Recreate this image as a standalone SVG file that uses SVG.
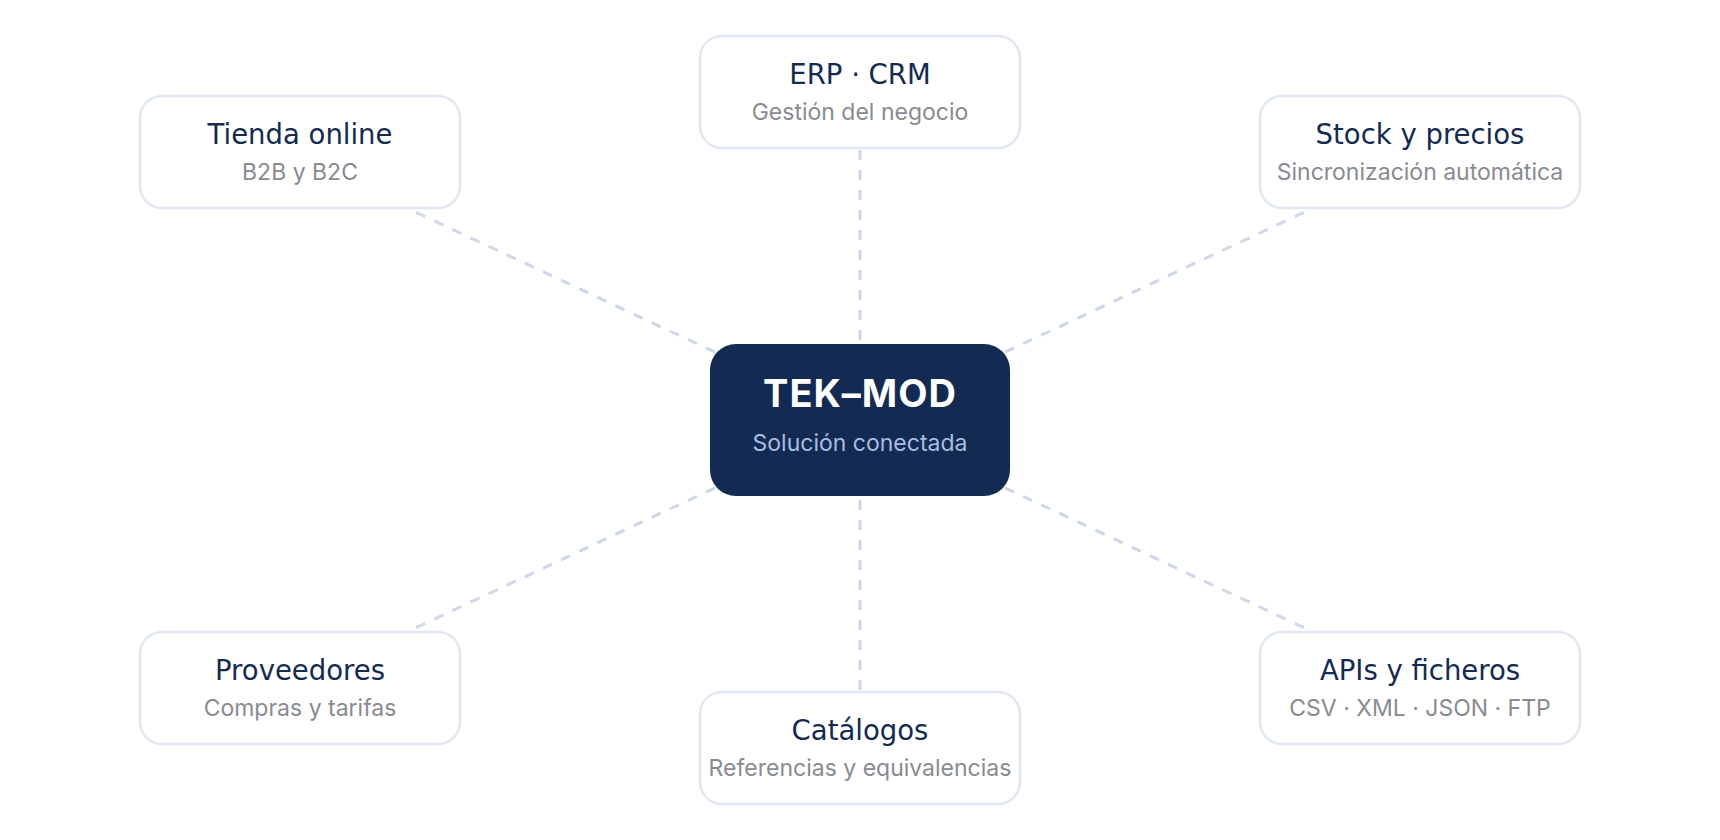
<svg xmlns="http://www.w3.org/2000/svg" width="1720" height="840" viewBox="0 0 1720 840">
<style>
.bg{fill:#ffffff}
.link{stroke:#cdd7e7;stroke-width:3;stroke-dasharray:10 10;fill:none}
.node{fill:#ffffff;stroke:#e2e8f2;stroke-width:2.5}
.hub{fill:#132a52}
.t{font-family:"DejaVu Sans",sans-serif;font-size:27.5px;fill:#132a52;text-anchor:middle}
.s{font-family:Inter,"Noto Sans",sans-serif;font-size:23px;fill:#888b90;text-anchor:middle}
.ht{font-family:Inter,"Noto Sans",sans-serif;font-size:38px;font-weight:700;fill:#ffffff;text-anchor:middle;letter-spacing:1px}
.hs{font-family:Inter,"Noto Sans",sans-serif;font-size:23px;fill:#a9bde0;text-anchor:middle}
</style>
<rect class="bg" width="1720" height="840"/>
<g id="connectors">
<line class="link" x1="860" y1="420" x2="300" y2="158"/>
<line class="link" x1="860" y1="420" x2="860" y2="150"/>
<line class="link" x1="860" y1="420" x2="1420" y2="158"/>
<line class="link" x1="860" y1="420" x2="300" y2="682"/>
<line class="link" x1="860" y1="420" x2="860" y2="690"/>
<line class="link" x1="860" y1="420" x2="1420" y2="682"/>
</g>
<g id="hub">
<rect class="hub" x="710" y="344" width="300" height="152" rx="26"/>
<text class="ht" x="860" y="407">TEK–MOD</text>
<text class="hs" x="860" y="451">Solución conectada</text>
</g>
<g id="tienda">
<rect class="node" x="140" y="96" width="320" height="112" rx="22"/>
<text class="t" x="300" y="144">Tienda online</text>
<text class="s" x="300" y="180">B2B y B2C</text>
</g>
<g id="erp">
<rect class="node" x="700" y="36" width="320" height="112" rx="22"/>
<text class="t" x="860" y="84">ERP · CRM</text>
<text class="s" x="860" y="120">Gestión del negocio</text>
</g>
<g id="stock">
<rect class="node" x="1260" y="96" width="320" height="112" rx="22"/>
<text class="t" x="1420" y="144">Stock y precios</text>
<text class="s" x="1420" y="180">Sincronización automática</text>
</g>
<g id="proveedores">
<rect class="node" x="140" y="632" width="320" height="112" rx="22"/>
<text class="t" x="300" y="680">Proveedores</text>
<text class="s" x="300" y="716">Compras y tarifas</text>
</g>
<g id="catalogos">
<rect class="node" x="700" y="692" width="320" height="112" rx="22"/>
<text class="t" x="860" y="740">Catálogos</text>
<text class="s" x="860" y="776">Referencias y equivalencias</text>
</g>
<g id="apis">
<rect class="node" x="1260" y="632" width="320" height="112" rx="22"/>
<text class="t" x="1420" y="680">APIs y ficheros</text>
<text class="s" x="1420" y="716">CSV · XML · JSON · FTP</text>
</g>
</svg>
